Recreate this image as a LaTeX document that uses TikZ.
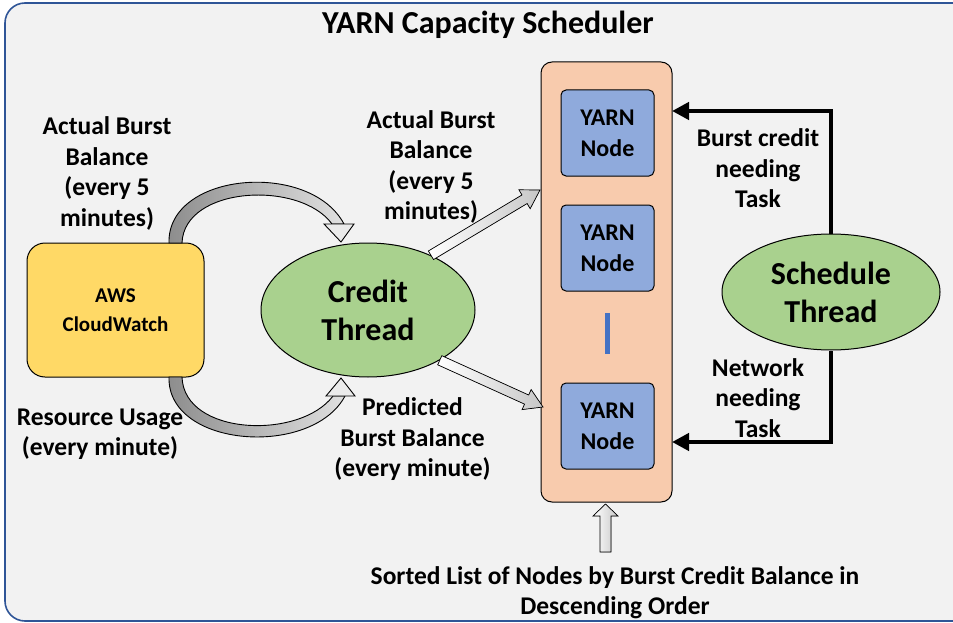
\documentclass[tikz,border=0pt]{standalone}
\usepackage{fontspec}
\setmainfont{Carlito}
\usetikzlibrary{calc,arrows.meta,shapes.geometric}
\definecolor{framefill}{HTML}{F2F2F2}
\definecolor{frameline}{HTML}{2F5597}
\definecolor{awsfill}{HTML}{FFD966}
\definecolor{colfill}{HTML}{F8CBAD}
\definecolor{yarnfill}{HTML}{8FAADC}
\definecolor{ellfill}{HTML}{A9D18E}
\definecolor{barblue}{HTML}{4472C4}
\newcommand{\blockarr}[2]{%
  \path (#1) coordinate (T) (#2) coordinate (P);
  \coordinate (B) at ($(P)!18pt!(T)$);
  \filldraw[blockfill] ($(T)!5pt!90:(P)$) -- ($(B)!5pt!90:(P)$) -- ($(B)!11pt!90:(P)$) -- (P)
    -- ($(B)!11pt!-90:(P)$) -- ($(B)!5pt!-90:(P)$) -- ($(T)!5pt!-90:(P)$) -- cycle;}
\begin{document}
\begin{tikzpicture}[x=1pt,y=-1pt,
  lbl/.style={font=\bfseries\fontsize{25.5}{30.5}\selectfont, align=center, inner sep=0pt},
  bigtxt/.style={font=\bfseries\fontsize{32}{38}\selectfont, align=center, inner sep=0pt},
  ellnode/.style={ellipse, draw=black, line width=1pt, fill=ellfill, inner sep=0pt},
  yarnbox/.style={draw=black, line width=1pt, fill=yarnfill, rounded corners=5pt,
    minimum width=93pt, minimum height=86pt, inner sep=0pt, align=center,
    font=\bfseries\fontsize{24}{31}\selectfont},
  blockfill/.style={draw=black, line width=0.7pt, left color=white, right color=black!22},
  bandfill/.style={draw=black, line width=0.9pt, left color=black!45, right color=black!12},
  headfill/.style={draw=black, line width=0.9pt, fill=black!8},
  blackarr/.style={draw=black, line width=4.5pt, -{Triangle[length=17pt,width=17pt]}}]
\useasboundingbox (0,0) rectangle (953,623);
% frame
\draw[fill=framefill, draw=frameline, line width=1.6pt, rounded corners=20pt] (5,3) rectangle (975,621);
\node[font=\bfseries\fontsize{32}{38}\selectfont, inner sep=0pt] (title) at (488,25) {YARN Capacity Scheduler};
% AWS box
\node[draw=black, line width=1pt, fill=awsfill, rounded corners=18pt, minimum width=177pt,
  minimum height=134pt, inner sep=0pt, align=center, font=\bfseries\fontsize{21}{29}\selectfont]
  (aws) at (115.5,310) {AWS\\CloudWatch};
% credit thread
\node[ellnode, minimum width=214pt, minimum height=134pt, bigtxt] (credit) at (368,310) {Credit\\Thread};
% column
\node[draw=black, line width=1pt, fill=colfill, rounded corners=11pt, minimum width=131pt,
  minimum height=440pt, inner sep=0pt] (col) at (606.5,282) {};
\node[yarnbox] (y1) at (607.5,133) {YARN\\Node};
\node[yarnbox] (y2) at (607.5,248) {YARN\\Node};
\node[yarnbox] (y3) at (607.5,426) {YARN\\Node};
\draw[barblue, line width=5pt] (y2.south |- 0,313) coordinate (bar1) -- (y2.south |- 0,354) coordinate (bar2);
% schedule thread
\node[ellnode, minimum width=218pt, minimum height=116pt, bigtxt] (sched) at (831,292) {Schedule\\Thread};
% black arrows
\coordinate (in1) at (672,111);
\coordinate (in2) at (672,442);
\draw[blackarr] (sched.north) |- (in1);
\draw[blackarr] (sched.south) |- (in2);
% labels
\node[lbl] (l1) at (107,173.5) {Actual Burst\\Balance\\(every 5\\minutes)};
\node[lbl] (l2) at (100,434) {Resource Usage\\(every minute)};
\node[lbl] (l3) at (431,167) {Actual Burst\\Balance\\(every 5\\minutes)};
\node[lbl] (l4) at (412.5,439.5) {Predicted\\Burst Balance\\(every minute)};
\node[lbl] (l5) at (758,168.5) {Burst credit\\needing\\Task};
\node[lbl] (l6) at (758,398) {Network\\needing\\Task};
\node[lbl] (l7) at (615,592.5) {Sorted List of Nodes by Burst Credit Balance in\\Descending Order};
% curved bands
\path[bandfill] (169,243) .. controls (167,172) and (310,160) .. (344,224) -- (332,224)
  .. controls (300,180) and (184,186) .. (182,243) -- cycle;
\path[headfill] (324,224) -- (354,224) -- (341,242) -- cycle;
\path[bandfill] (169,377) .. controls (167,448) and (312,458) .. (345,396) -- (333,396)
  .. controls (300,440) and (184,436) .. (182,377) -- cycle;
\path[headfill] (326,396) -- (355,396) -- (341,378) -- cycle;
% straight block arrows
\coordinate (tip1) at (540,190);
\coordinate (tip2) at (543,407);
\blockarr{credit.41}{tip1}
\blockarr{credit.-35}{tip2}
% up arrow below column
\coordinate (ub) at (605.5,552);
\filldraw[blockfill] (600,552) -- (600,516) -- (593,516) -- (605.5,504) -- (618,516) -- (611,516) -- (611,552) -- cycle;
\end{tikzpicture}
\end{document}
